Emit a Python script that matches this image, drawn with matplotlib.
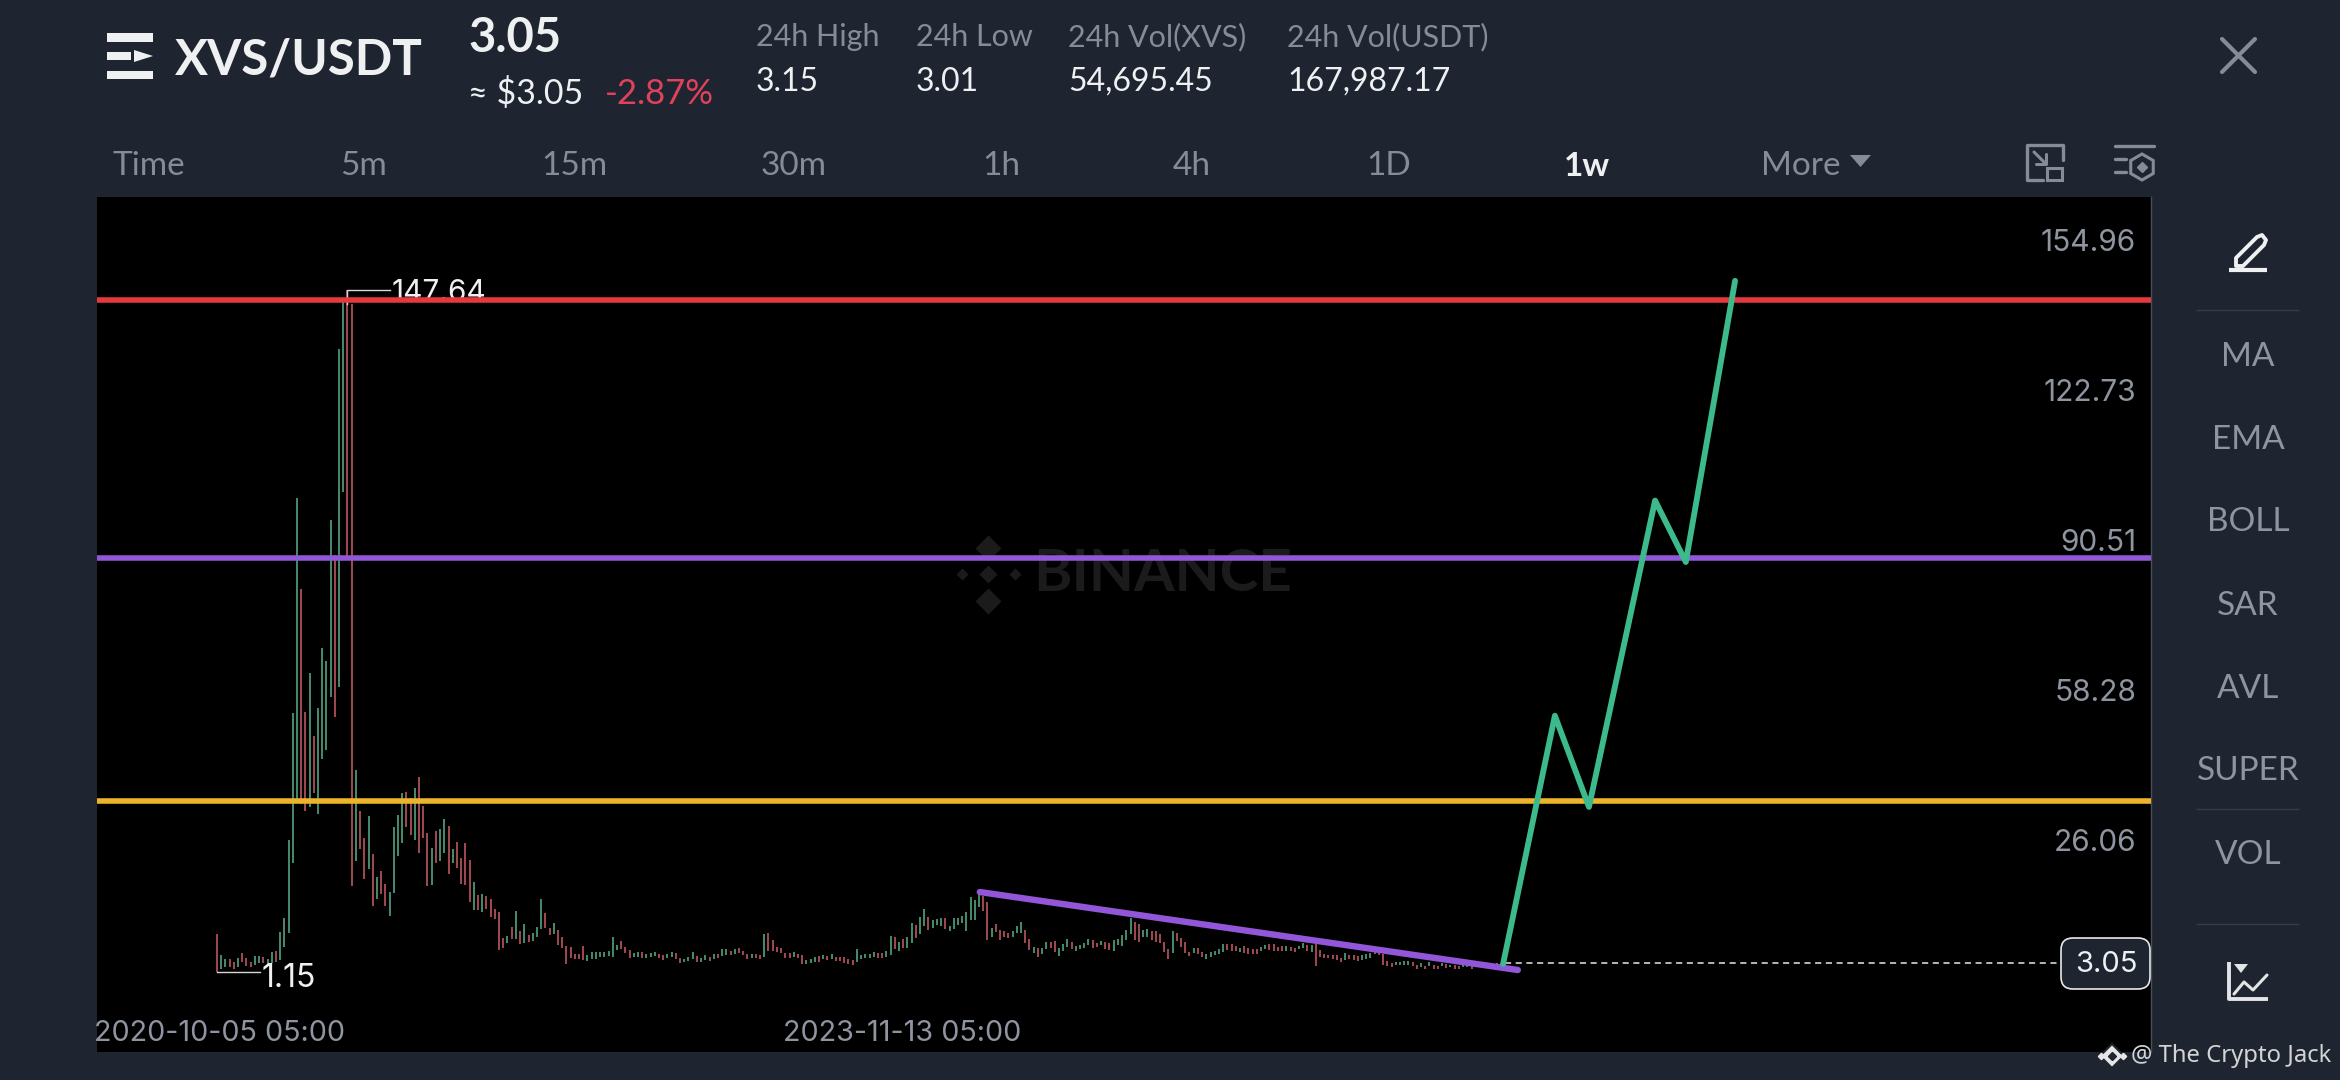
import matplotlib
matplotlib.use("Agg")
import matplotlib.pyplot as plt
from matplotlib.patches import FancyBboxPatch, Rectangle, Polygon, RegularPolygon

plt.rcParams['font.family'] = ['Lato', 'DejaVu Sans']

# weekly candles, top and bottom of each bar in USDT
tops = [9.3,4.8,3.94,3.87,3.37,4.09,5.16,4.09,3.37,4.59,
        4.59,4.44,3.87,5.38,5.66,9.67,12.68,29.5,56.79,102.97,
        83.42,57.0,65.38,51.85,57.86,70.75,67.95,98.24,90.73,134.97,
        145.07,147.64,144.64,44.54,35.73,29.86,34.66,26.5,21.63,22.77,
        20.05,18.26,32.22,34.87,39.53,39.74,38.45,40.6,42.96,36.81,
        30.94,27.7,31.44,31.8,34.0,32.5,27.57,29.0,25.57,28.79,
        25.2,20.55,17.69,17.9,17.47,16.76,14.61,13.96,8.38,8.88,
        10.89,14.25,9.96,11.46,9.1,9.6,10.89,16.76,13.89,10.53,
        11.6,10.17,8.6,6.8,6.59,5.01,5.01,6.73,4.8,5.37,
        5.37,5.37,5.52,5.73,8.6,6.95,7.81,6.59,5.87,5.3,
        5.37,5.37,5.01,5.16,5.44,4.94,4.73,5.01,5.37,5.16,
        4.08,4.01,4.3,5.44,4.59,4.16,4.73,4.44,4.94,5.01,
        6.02,6.02,5.73,6.02,6.37,5.73,5.09,5.09,5.01,4.87,
        9.31,9.6,8.02,6.59,6.23,5.16,5.16,5.37,5.01,4.8,
        3.73,3.94,4.3,4.59,4.87,4.59,4.94,4.44,4.3,4.3,
        3.87,3.73,6.16,4.8,4.94,5.01,5.37,5.16,5.16,5.66,
        8.88,8.74,7.66,8.17,8.74,11.75,11.24,12.89,14.68,12.89,
        12.32,12.46,12.82,12.68,11.03,12.75,12.68,13.25,13.96,17.33,
        16.61,17.83,17.47,16.26,10.67,11.46,10.17,9.96,9.6,10.03,
        11.1,11.82,10.17,8.17,6.45,6.23,6.23,7.59,7.52,7.81,
        6.23,7.16,8.17,7.52,6.73,6.95,7.31,8.17,7.95,7.45,
        7.88,7.59,7.38,8.02,8.31,9.1,10.17,12.68,11.82,11.46,
        10.17,10.38,10.03,9.96,9.24,7.66,6.09,9.96,9.45,8.38,
        7.52,5.52,6.23,6.23,5.52,5.01,5.37,5.66,6.02,7.09,
        7.16,7.09,6.73,6.37,6.73,6.23,6.02,6.02,6.45,6.95,
        7.16,7.16,6.59,6.73,6.73,6.59,6.37,6.8,7.31,6.95,
        6.95,7.16,5.87,5.01,4.8,4.73,4.73,4.16,5.16,4.87,
        4.8,4.59,4.73,4.94,5.3,5.52,5.44,5.01,3.58,3.15,
        3.3,3.37,3.44,3.51,3.37,2.65,3.01,2.44,3.37,2.58,
        2.51,3.15,2.87,2.65,2.58,2.51,2.65,2.58,2.44,2.44,
        2.51,2.65,3.15,2.87,3.15,3.01,3.05]
bottoms = [1.15,1.9,2.3,2.3,1.8,2.3,3.37,2.44,2.3,2.65,
           3.01,3.15,2.87,3.01,3.37,3.73,6.45,9.46,24.57,37.67,
           37.25,35.74,36.6,39.6,35.1,46.9,48.84,60.23,55.93,62.37,
           104.26,90.3,19.63,25.06,27.57,21.13,23.2,15.33,16.76,17.9,
           15.33,13.18,18.05,26.07,28.79,32.22,30.58,29.5,26.78,29.86,
           19.62,19.84,24.49,25.06,26.64,22.2,24.64,23.56,20.05,19.84,
           16.26,14.47,14.47,14.1,14.61,13.03,12.46,5.87,6.37,7.31,
           8.17,8.17,7.16,7.31,7.52,7.88,8.6,10.31,10.53,9.1,
           9.24,6.95,6.23,2.8,4.08,3.87,3.87,3.73,3.51,3.94,
           4.01,4.3,4.3,4.59,4.44,5.87,6.02,5.3,4.23,4.3,
           4.3,4.08,4.16,4.3,4.59,4.08,3.73,4.16,4.44,3.87,
           3.08,3.3,3.51,3.87,3.3,3.37,3.65,3.58,3.87,4.08,
           4.66,4.73,4.87,5.09,5.3,4.8,3.94,4.16,4.08,3.94,
           4.3,5.73,5.73,5.44,5.16,4.16,4.16,4.3,4.08,2.8,
           2.87,3.15,3.3,3.37,3.87,3.73,3.87,3.51,3.44,3.15,
           2.94,2.72,3.3,3.87,4.16,4.16,4.44,4.08,4.08,4.44,
           4.8,6.02,5.73,6.23,6.23,7.45,8.38,9.31,11.03,10.17,
           10.53,11.17,11.03,10.31,10.03,10.31,11.24,11.6,10.03,12.32,
           12.32,15.18,14.32,8.02,8.6,9.81,8.02,8.74,8.38,8.74,
           9.45,9.45,7.31,5.87,5.3,4.3,5.01,6.02,6.23,5.52,
           4.59,5.73,6.59,6.02,5.66,6.09,6.38,7.02,6.3,6.59,
           6.95,6.09,5.87,5.73,6.88,6.73,8.02,9.31,8.02,7.59,
           8.74,8.74,8.02,7.66,7.31,5.44,4.01,5.16,7.81,6.59,
           5.3,4.59,5.16,5.01,4.3,4.01,4.44,4.73,5.01,5.52,
           5.87,5.73,5.59,5.37,5.3,4.94,5.01,5.09,5.59,6.02,
           5.87,5.73,5.66,5.73,5.73,5.73,5.52,6.02,6.23,5.66,
           5.52,2.51,4.3,4.23,4.08,3.87,3.73,3.37,3.73,3.87,
           3.73,3.58,3.73,3.94,4.23,5.01,4.87,2.65,2.51,2.29,
           2.58,2.58,2.58,2.65,2.44,1.87,2.15,1.79,2.44,1.79,
           1.79,2.44,2.08,2.15,1.79,1.79,2.22,2.15,1.87,2.15,
           2.22,2.36,2.8,2.51,2.65,2.58,2.6]
directions = ("rggrrgrrrg" "grggrggggg" "rrgrggggrg" "grrgrrgrgr" "rggggrrgrr"
              "rgrggrgrrr" "rgrgrrrrrg" "rgrgrgggrr" "grrrrrrrgg" "ggggggrrrg"
              "grgggrrggr" "rgggrggrgr" "ggrgrrrgrr" "grrrrrrgrr" "gggrgrgrrr"
              "rrgggggrrg" "grgrggrggr" "gggrgggggg" "ggrrgrrrrg" "ggrrgrggrr"
              "gggrggggrr" "grrgggggrr" "ggrrrrrgrr" "rrgrrggggg" "rrrgrrrrgg"
              "rrrrgrrggr" "grrrrrrrgr" "rrgggrrrrr" "ggggrrgrgr" "rgrgrrggrg"
              "gggggrg")

price_ticks = [154.96, 122.73, 90.51, 58.28, 26.06]
date_ticks = [0, 162]
date_labels = ["2020-10-05 05:00", "2023-11-13 05:00"]

# levels and the hand drawn lines on top of the chart
levels = [145.4, 90.0, 37.8]
level_colors = ["#e5383f", "#9256d9", "#ecb42a"]
trend_x = [181.2, 309]
trend_y = [18.33, 1.58]
path_x = [305.5, 317.8, 325.9, 341.6, 348.9, 360.6]
path_y = [2.87, 56.2, 36.6, 102.4, 89.2, 149.6]
last_price = 3.05
high_idx, high_price = 31, 147.64
low_idx, low_price = 0, 1.15

stats_head = ["24h High", "24h Low", "24h Vol(XVS)", "24h Vol(USDT)"]
stats_vals = ["3.15", "3.01", "54,695.45", "167,987.17"]
tabs = ["Time", "5m", "15m", "30m", "1h", "4h", "1D", "1w", "More"]
side_items = ["MA", "EMA", "BOLL", "SAR", "AVL", "SUPER", "VOL"]

BG = "#1f2530"
GREY = "#848c98"
WHITE = "#eef0f2"
AXIS_FONT = ['Inter', 'DejaVu Sans']

fig = plt.figure(figsize=(23.4, 10.8), dpi=100, facecolor=BG)
ax = fig.add_axes([97/2340, 1 - 1052/1080, (2151-97)/2340, (1052-197)/1080], facecolor="black")
ax.set_xlim(-28.5, 459.4)
ax.set_ylim(-16.03, 167.6)
ax.set_xticks([])
ax.set_yticks([])
for s in ["top", "left", "bottom"]:
    ax.spines[s].set_visible(False)
ax.spines["right"].set_color("#4a505a")
ax.spines["right"].set_linewidth(1)

# watermark under everything
ax.text(0.456, 0.559, "BINANCE", transform=ax.transAxes, ha="left", va="center", color="#1b1b1b",
        fontsize=42, fontweight="bold", zorder=1)
for dx, dy, sz in [(0.434, 0.559, 10), (0.421, 0.559, 7), (0.447, 0.559, 7), (0.434, 0.59, 14), (0.434, 0.528, 14)]:
    ax.plot([dx], [dy], marker="D", ms=sz, color="#1b1b1b", mec="black", transform=ax.transAxes, zorder=1)

# candles
xs = list(range(len(tops)))
up = [d == "g" for d in directions]
ax.vlines([x for x, u in zip(xs, up) if u], [b for b, u in zip(bottoms, up) if u],
          [t for t, u in zip(tops, up) if u], color="#4f9c7b", lw=1.25, zorder=2)
ax.vlines([x for x, u in zip(xs, up) if not u], [b for b, u in zip(bottoms, up) if not u],
          [t for t, u in zip(tops, up) if not u], color="#b5525c", lw=1.25, zorder=2)

# high and low markers
ax.plot([high_idx, high_idx, high_idx + 10.2], [high_price - 3, high_price, high_price], color="#d8d8d8", lw=1, zorder=3)
ax.annotate(f"{high_price:.2f}", (high_idx + 10.2, high_price), xytext=(1, -2.5), textcoords="offset points",
            color=WHITE, fontsize=21.5, va="center", family=AXIS_FONT, zorder=3)
ax.plot([low_idx, low_idx + 10.2], [low_price, low_price], color="#d8d8d8", lw=1, zorder=3)
ax.annotate(f"{low_price:.2f}", (low_idx + 10.2, low_price), xytext=(1, -5), textcoords="offset points",
            color=WHITE, fontsize=23, va="center", family=AXIS_FONT, zorder=3)

for lv, c in zip(levels, level_colors):
    ax.axhline(lv, color=c, lw=4, zorder=4)
ax.plot(trend_x, trend_y, color="#9256d9", lw=4.6, solid_capstyle="round", zorder=5)
ax.plot(path_x, path_y, color="#3dba8c", lw=4.2, solid_joinstyle="round", solid_capstyle="round", zorder=5)

# current price line
ax.plot([xs[-1], 437.5], [last_price, last_price], color="#e8e8e8", lw=1.1, ls=(0, (4, 3)), zorder=4)

# axis labels, they sit above their gridline position
for v in price_ticks:
    ax.annotate(f"{v:.2f}", (0.9927, v), xycoords=ax.get_yaxis_transform(), xytext=(0, -1), textcoords="offset points",
                ha="right", va="bottom", color="#8f95a0", fontsize=21.5, family=AXIS_FONT, zorder=6)
for i, lab in zip(date_ticks, date_labels):
    ax.annotate(lab, (i, 0), xycoords=ax.get_xaxis_transform(), xytext=(2, 3.5), textcoords="offset points",
                ha="center", va="bottom", color="#8f95a0", fontsize=20.7, family=AXIS_FONT, zorder=6, annotation_clip=False)

# everything around the chart, placed in screen pixels
ui = fig.add_axes([0, 0, 1, 1], facecolor="none")
ui.set_xlim(0, 2340)
ui.set_ylim(1080, 0)
ui.axis("off")


def label(x, y, s, size, color=GREY, ha="left", weight="normal", family=None):
    ui.text(x, y, s, fontsize=size, color=color, ha=ha, va="center", fontweight=weight,
            family=family if family else ['Lato', 'DejaVu Sans'])


def stroke(px, py, color=GREY, lw=2.2, cap="round"):
    ui.plot(px, py, color=color, lw=lw, solid_capstyle=cap, solid_joinstyle="round")


# menu icon
for y, h, w in [(33, 9, 46), (52, 8, 24), (71, 8, 46)]:
    ui.add_patch(Rectangle((107, y), w, h, color=WHITE, lw=0))
ui.add_patch(Polygon([[134, 50], [134, 62], [153, 56]], color=WHITE, lw=0))

label(175, 60, "XVS/USDT", 35.5, WHITE, weight="bold")
label(468, 38, "3.05", 34, WHITE, weight="bold")
label(468, 94, "≈ $3.05", 24.5, WHITE)
label(605, 94, "-2.87%", 25, "#e0425c")
for x, h, v in zip([756, 916, 1068, 1287], stats_head, stats_vals):
    label(x, 37, h, 22, GREY)
    label(x, 82, v, 23, WHITE)

for x, t in zip([149, 364, 574, 794, 1001, 1192, 1389, 1587, 1801], tabs):
    if t == "1w":
        label(x, 166, t, 24, WHITE, ha="center", weight="bold")
    else:
        label(x, 166, t, 24, GREY, ha="center")
ui.add_patch(Polygon([[1850, 155], [1871, 155], [1860.5, 167]], color=GREY, lw=0))

# close cross
stroke([2222, 2255], [39, 72], lw=3)
stroke([2255, 2222], [39, 72], lw=3)

# expand icon
stroke([2063, 2063, 2027, 2027, 2043], [160, 145, 145, 180, 180], lw=2.4)
ui.add_patch(Rectangle((2047, 168), 15, 12, fc="none", ec=GREY, lw=2.2))
stroke([2034, 2046], [152, 164], lw=2.2)
stroke([2036, 2046, 2046], [164, 164, 154], lw=2.2)

# settings icon
stroke([2115, 2154], [146, 146], lw=2.4)
stroke([2115, 2126], [159, 159], lw=2.4)
stroke([2115, 2126], [172, 172], lw=2.4)
ui.add_patch(RegularPolygon((2142, 167), 6, radius=13, fc="none", ec=GREY, lw=2.2))
ui.plot([2142], [167], marker="D", ms=5, color=GREY)

# side menu
for y, t in zip([357, 440, 522, 606, 689, 771, 855], side_items):
    label(2248, y, t, 24, "#8f95a0", ha="center")
for y in [310, 809, 924]:
    stroke([2196, 2299], [y, y], color="#373d48", lw=1, cap="butt")

# pencil
ui.add_patch(Polygon([[2236, 258], [2257, 237], [2262, 235], [2266, 240], [2264, 245], [2243, 266], [2236, 266]],
                     fc="none", ec=WHITE, lw=2.8, joinstyle="round"))
stroke([2229, 2267], [270, 270], color=WHITE, lw=3, cap="butt")

# chart icon
stroke([2229, 2229, 2268], [962, 999, 999], color="#e2e4e6", lw=2.8, cap="butt")
stroke([2234, 2244, 2253, 2267], [994, 982, 990, 975], color="#e2e4e6", lw=2.2)
ui.add_patch(Polygon([[2234, 964], [2248, 964], [2241, 973]], color="#e2e4e6", lw=0))

# current price tag
ui.add_patch(FancyBboxPatch((2061, 938), 89, 51, boxstyle="round,pad=0,rounding_size=12",
                            fc=BG, ec="#e8e8e8", lw=1.2))
label(2106, 965, f"{last_price:.2f}", 21, WHITE, ha="center", family=AXIS_FONT)

# poster credit bottom right
ui.plot([2112], [1056], marker="D", ms=12, color="#e6e6e6", mec=BG, mew=1.5)
ui.plot([2112], [1056], marker="D", ms=4, color=BG)
for dx in (-11, 11):
    ui.plot([2112 + dx], [1056], marker="D", ms=3.2, color="#e6e6e6")
label(2131, 1056, "@ The Crypto Jack", 17.2, "#d3d4d6", family=['Noto Sans', 'DejaVu Sans'])

fig.savefig("out.png", dpi=100, facecolor=BG)
